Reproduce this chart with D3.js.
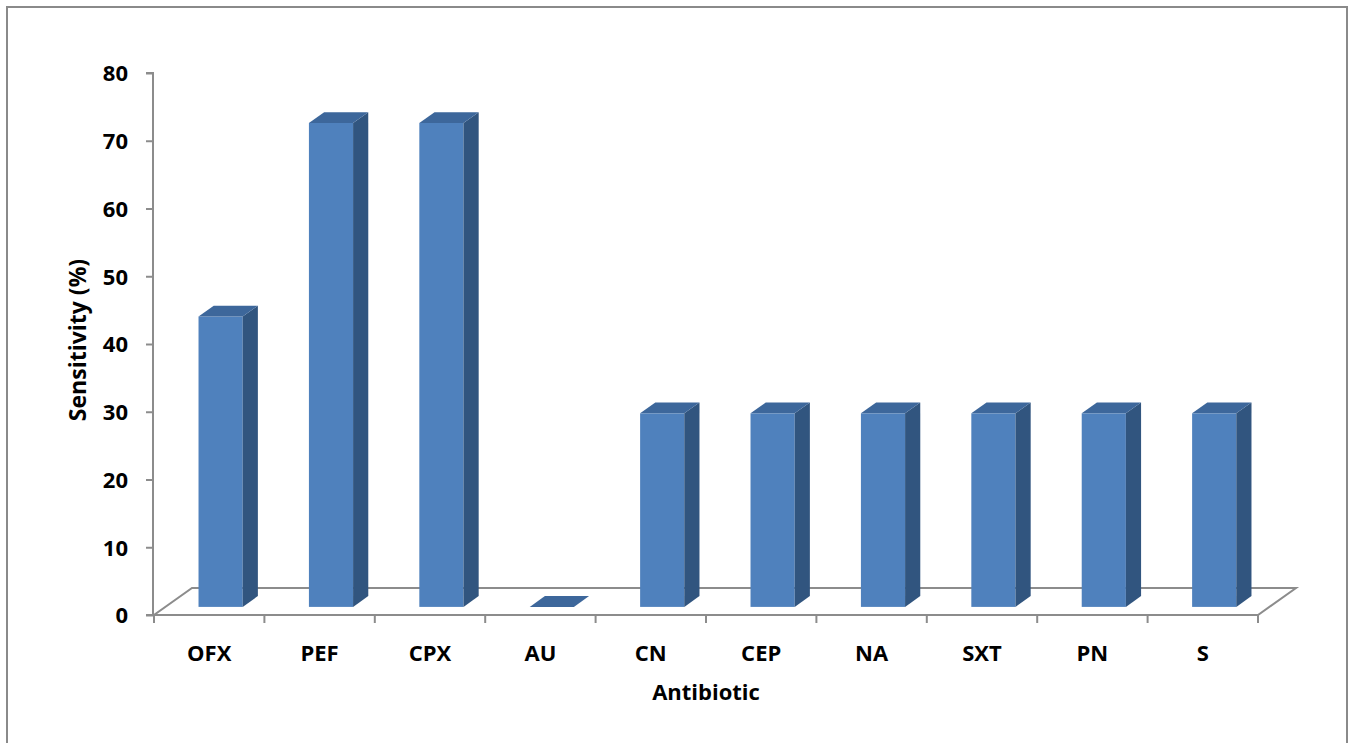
<!DOCTYPE html>
<html>
<head>
<meta charset="utf-8">
<script src="https://cdn.jsdelivr.net/npm/d3@7"></script>
<style>
  html, body { margin: 0; padding: 0; background: #fff; }
  svg text { font-family: "Open Sans", "Liberation Sans", Arial, sans-serif; font-weight: bold; fill: #000; }
</style>
</head>
<body>
<svg id="chart" width="1353" height="743"></svg>
<script>
// Antibiotic sensitivity data (%)
const categories = ["OFX", "PEF", "CPX", "AU", "CN", "CEP", "NA", "SXT", "PN", "S"];
const sensitivity = [42.86, 71.43, 71.43, 0, 28.57, 28.57, 28.57, 28.57, 28.57, 28.57];
const yTicks = [0, 10, 20, 30, 40, 50, 60, 70, 80];
const xTitle = "Antibiotic";
const yTitle = "Sensitivity (%)";

const svg = d3.select("#chart");
const fontStack = "'Open Sans', 'Liberation Sans', Arial, sans-serif";

// plot geometry (front plane of the 3D box)
const plotLeft = 154, plotRight = 1258, plotTop = 73, plotBottom = 615;
const depthX = 38, depthY = -27;          // floor depth projection
const barFront = 0.3, barBack = 0.7;       // bar occupies middle of the depth
const gridColor = "#8c8c8c";

const x = d3.scaleBand().domain(categories).range([plotLeft, plotRight]).paddingInner(0).paddingOuter(0);
const y = d3.scaleLinear().domain([0, 80]).range([plotBottom, plotTop]);

// outer frame
svg.append("rect")
  .attr("x", 7).attr("y", 7).attr("width", 1340).attr("height", 760)
  .attr("fill", "none").attr("stroke", "#8a8a8a").attr("stroke-width", 2);

// floor outline
const floorPts = [
  [plotLeft, plotBottom], [plotRight, plotBottom],
  [plotRight + depthX, plotBottom + depthY], [plotLeft + depthX, plotBottom + depthY]
];
svg.append("path")
  .attr("d", d3.line()(floorPts) + "Z")
  .attr("fill", "none").attr("stroke", gridColor).attr("stroke-width", 2);

// y axis
const yAxis = d3.axisLeft(y).tickValues(yTicks).tickSize(7).tickPadding(18);
const gy = svg.append("g").attr("transform", `translate(${plotLeft - 1},0)`).call(yAxis);
gy.select(".domain").attr("stroke", gridColor).attr("stroke-width", 2).attr("d", `M-7,${plotTop}H0V${plotBottom}`);
gy.selectAll(".tick line").attr("stroke", gridColor).attr("stroke-width", 2);
gy.selectAll(".tick text").attr("font-size", 22).attr("dy", "0.36em")
  .style("font-family", fontStack).style("font-weight", "bold");

// x axis ticks (category boundaries)
const xBounds = categories.map(c => x(c)).concat([plotRight]);
svg.append("g").selectAll("line").data(xBounds).join("line")
  .attr("x1", d => d).attr("x2", d => d)
  .attr("y1", plotBottom).attr("y2", plotBottom + 8)
  .attr("stroke", gridColor).attr("stroke-width", 2);
svg.append("line")
  .attr("x1", plotLeft - 8).attr("x2", plotLeft).attr("y1", plotBottom).attr("y2", plotBottom)
  .attr("stroke", gridColor).attr("stroke-width", 2);

// x category labels
svg.append("g").selectAll("text").data(categories).join("text")
  .attr("x", d => x(d) + x.bandwidth() / 2)
  .attr("y", 661)
  .attr("text-anchor", "middle")
  .attr("font-size", 22)
  .text(d => d);

// 3D bars
const barW = x.bandwidth() * 0.4;
const fx = depthX * barFront, fy = depthY * barFront;
const dX = depthX * (barBack - barFront), dY = depthY * (barBack - barFront);
const bars = svg.append("g").selectAll("g").data(categories.map((c, i) => ({ c, v: sensitivity[i] }))).join("g");

bars.each(function(d) {
  const g = d3.select(this);
  const x0 = x(d.c) + (x.bandwidth() - barW) / 2 + fx;
  const x1 = x0 + barW;
  const yb = y(0) + fy;
  const yt = y(d.v) + fy;
  if (d.v > 0) {
    // front face
    g.append("rect").attr("x", x0).attr("y", yt).attr("width", barW).attr("height", yb - yt)
      .attr("fill", "#4f81bd");
    // side face
    g.append("path")
      .attr("d", d3.line()([[x1, yt], [x1 + dX, yt + dY], [x1 + dX, yb + dY], [x1, yb]]) + "Z")
      .attr("fill", "#31557f");
  }
  // top face
  g.append("path")
    .attr("d", d3.line()([[x0, yt], [x0 + dX, yt + dY], [x1 + dX, yt + dY], [x1, yt]]) + "Z")
    .attr("fill", "#3d679b");
});

// axis titles
svg.append("text")
  .attr("x", 706).attr("y", 700)
  .attr("text-anchor", "middle").attr("font-size", 22)
  .text(xTitle);

svg.append("text")
  .attr("transform", `translate(86,340) rotate(-90)`)
  .attr("text-anchor", "middle").attr("font-size", 23)
  .text(yTitle);
</script>
</body>
</html>
